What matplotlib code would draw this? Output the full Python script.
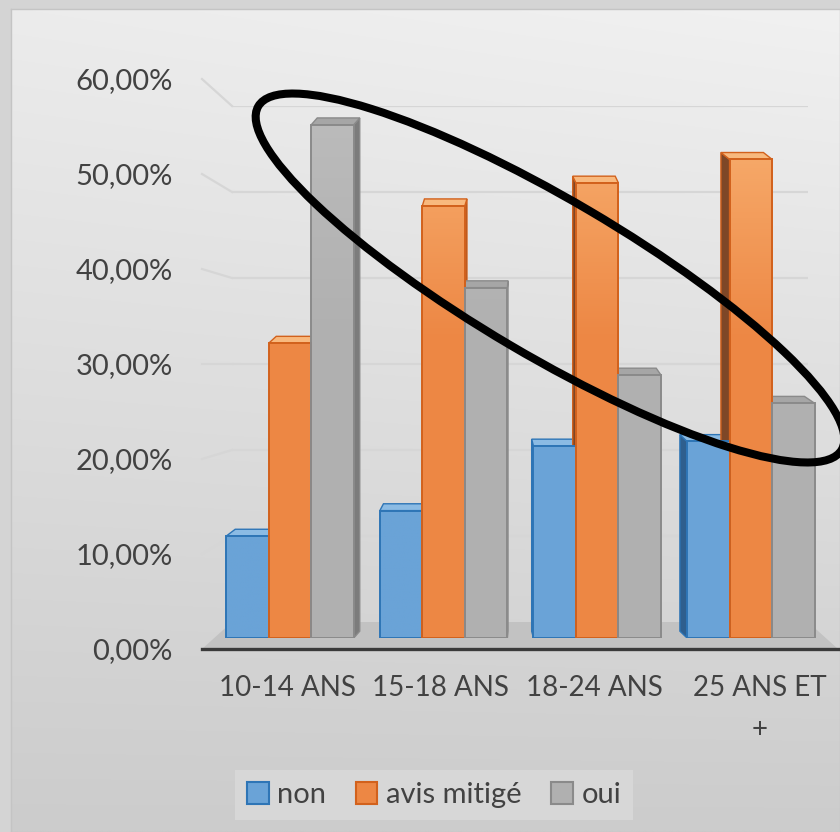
import matplotlib
matplotlib.use('Agg')
import matplotlib.pyplot as plt
import numpy as np
import matplotlib.colors as mcolors
from matplotlib.patches import Polygon, Ellipse, Patch
from matplotlib.lines import Line2D
from matplotlib.transforms import IdentityTransform, ScaledTranslation

categories = ['10-14 ANS', '15-18 ANS', '18-24 ANS', '25 ANS ET\n+']
series = ['non', 'avis mitigé', 'oui']
non = [11.2, 14.0, 21.1, 21.6]
avis_mitige = [32.4, 47.5, 50.0, 52.6]
oui = [56.4, 38.5, 28.9, 25.8]
yticks = [0, 10, 20, 30, 40, 50, 60]
ytick_labels = ['0,00%', '10,00%', '20,00%', '30,00%', '40,00%', '50,00%', '60,00%']

# front colour (bottom, top), edge, side face, cap
styles = {
    'non': ('#6aa3d7', '#7ab2e2', '#2e75b6', '#2f5f8e', '#8bbbe4'),
    'avis mitigé': ('#ed8744', '#f9b374', '#d2611c', '#7e4727', '#f8b97e'),
    'oui': ('#b0b0b0', '#bcbcbc', '#8a8a8a', '#7c7c7c', '#a6a6a6'),
}
text_color = '#424242'

W, H = 840, 832
plt.rcParams['font.family'] = ['Lato', 'DejaVu Sans']
fig = plt.figure(figsize=(W / 100, H / 100), dpi=100, facecolor='#d4d4d4')


def rect(left, right, y0, y1):
    # pixel box (y measured from the top) -> figure fraction
    return [left / W, 1 - y0 / H, (right - left) / W, (y0 - y1) / H]


# shaded chart panel
bg = fig.add_axes([11 / W, 0, 1 - 11 / W, 823 / H], zorder=-10)
r = np.linspace(0, 1, 200)[:, None]
c = np.linspace(0, 1, 200)[None, :]
shade = 0.935 - 0.135 * r + 0.02 * (c - 0.5) * (1 - r)
bg.imshow(np.dstack([shade] * 3), aspect='auto', extent=[0, 1, 0, 1], interpolation='bilinear')
bg.set_xticks([])
bg.set_yticks([])
for s in bg.spines.values():
    s.set_color('#c4c4c4')
    s.set_linewidth(1)

# back wall (gridlines), front plane (labels, axis), bars in between
wall = fig.add_axes(rect(232, 808, 622, 106), zorder=1)
front = fig.add_axes(rect(202, 838, 649, 79), zorder=3)
ax = fig.add_axes(rect(200, 840, 638, 92), zorder=2)
for a in (wall, front, ax):
    a.set_ylim(0, 60)
    a.patch.set_visible(False)
    for s in a.spines.values():
        s.set_visible(False)
    a.set_xticks([])
    a.set_yticks([])

x = np.arange(len(categories))
x0 = -90 / 153.6
ax.set_xlim(x0, x0 + 640 / 153.6)
front.set_xlim(x0 + 5 / 153.6, x0 + 641 / 153.6)
wall.set_xlim(0, 1)

fig.canvas.draw()
to_px = IdentityTransform()

# gridlines on the back wall, joined to the front plane
for v in yticks[1:]:
    wall.axhline(v, color='#d6d6d6', lw=1.6)
    p_front = front.transAxes.transform((0, 0)) * [1, 0] + front.transData.transform((0, v)) * [0, 1]
    p_wall = wall.transData.transform((0, v))
    fig.add_artist(Line2D([p_front[0], p_wall[0]], [p_front[1], p_wall[1]],
                          transform=to_px, color='#d6d6d6', lw=1.6, zorder=1))

# floor
fl = front.transAxes.transform([(0, 0), (1, 0)])
wl = wall.transAxes.transform([(1, 0), (0, 0)])
fig.add_artist(Polygon(np.vstack([fl, wl]), closed=True, transform=to_px,
                       fc='#c2c2c2', ec='none', zorder=1.5))

# bars with a little depth
w = 42.5 / 153.6
vp = (504 - 200) / 153.6 + x0
k = 0.035
dy = 0.75
for j, (name, vals) in enumerate(zip(series, [non, avis_mitige, oui])):
    c_bot, c_top, edge, side, cap = styles[name]
    bars = ax.bar(x + (j - 1) * w, vals, width=w, fc='none', ec=edge, lw=1.4, zorder=4)
    cmap = mcolors.LinearSegmentedColormap.from_list(
        name, [(0, c_bot), (0.55, c_bot), (1, c_top)])
    for b in bars:
        xl, h = b.get_x(), b.get_height()
        xr = xl + w
        dx = k * (vp - (xl + w / 2))
        if dx > 0:
            sp = [(xr, 0), (xr + dx, dy), (xr + dx, h + dy), (xr, h)]
        else:
            sp = [(xl, 0), (xl + dx, dy), (xl + dx, h + dy), (xl, h)]
        ax.add_patch(Polygon(sp, fc=side, ec=edge, lw=1, zorder=2))
        ax.add_patch(Polygon([(xl, h), (xr, h), (xr + dx, h + dy), (xl + dx, h + dy)],
                             fc=cap, ec=edge, lw=1, zorder=2))
        grad = np.linspace(0, h / 60, 60)[:, None]
        im = ax.imshow(grad, cmap=cmap, vmin=0, vmax=1, origin='lower', aspect='auto',
                       extent=[xl, xr, 0, h], zorder=3, interpolation='bilinear')
        im.set_clip_path(b)
ax.set_xlim(x0, x0 + 640 / 153.6)
ax.set_ylim(0, 60)

# front plane: value labels and category axis
front.spines['bottom'].set_visible(True)
front.spines['bottom'].set_color('#3a3a3a')
front.spines['bottom'].set_linewidth(2.4)
front.set_yticks(yticks)
front.set_yticklabels(ytick_labels)
front.set_xticks(x)
front.set_xticklabels(categories)
front.tick_params(length=0, colors=text_color)
front.tick_params(axis='y', pad=21, labelsize=21)
front.tick_params(axis='x', pad=19, labelsize=20)
last = front.get_xticklabels()[-1]
last.set_transform(last.get_transform() + ScaledTranslation(12 / 100, 0, fig.dpi_scale_trans))
last.set_linespacing(1.75)

handles = [Patch(fc=styles[n][0], ec=styles[n][2], lw=1.5) for n in series]
leg = fig.legend(handles, series, loc='center', bbox_to_anchor=(434 / W, 1 - 795 / H),
                 ncol=3, frameon=True, fancybox=False, facecolor='#dadada', edgecolor='none',
                 fontsize=21, handlelength=0.75, handleheight=0.75, handletextpad=0.3,
                 columnspacing=1.0, borderpad=0.4)
for t in leg.get_texts():
    t.set_color(text_color)

# hand-drawn ring around the upper bars
fig.add_artist(Ellipse((550, H - 278), 677, 156, angle=-30.5, transform=to_px,
                       fill=False, ec='black', lw=5.8, zorder=20))

fig.savefig('out.png', dpi=100, facecolor=fig.get_facecolor())
